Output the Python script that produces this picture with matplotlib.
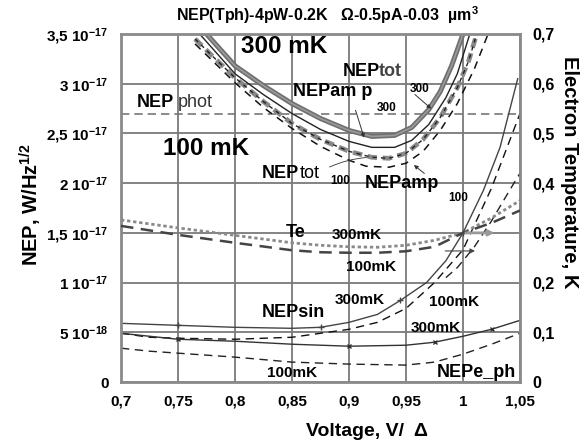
import matplotlib
matplotlib.use("Agg")
import matplotlib.pyplot as plt

plt.rcParams['font.family'] = ['Liberation Sans', 'DejaVu Sans']
plt.rcParams['font.weight'] = 'bold'
plt.rcParams['mathtext.fontset'] = 'custom'
plt.rcParams['mathtext.rm'] = 'Liberation Sans:bold'
plt.rcParams['mathtext.it'] = 'Liberation Sans:bold'
plt.rcParams['mathtext.bf'] = 'Liberation Sans:bold'

# ---------------- data (NEP in 1e-18 W/Hz^1/2, Te in K) ----------------
v_tot300 = [0.775, 0.80, 0.825, 0.85, 0.875, 0.90, 0.92, 0.94, 0.955, 0.97, 0.98, 0.99, 1.0]
nep_tot300 = [35.0, 31.8, 29.8, 28.0, 26.5, 25.3, 24.7, 24.8, 25.6, 27.4, 29.2, 31.8, 35.0]

v_amp300 = [0.769, 0.80, 0.825, 0.85, 0.875, 0.90, 0.92, 0.94, 0.955, 0.97, 0.985, 0.995, 1.006]
nep_amp300 = [35.0, 31.0, 28.9, 27.0, 25.4, 24.2, 23.6, 23.6, 24.3, 25.9, 28.6, 31.0, 35.0]

v_tot100 = [0.765, 0.78, 0.80, 0.825, 0.85, 0.875, 0.90, 0.92, 0.935, 0.95, 0.965, 0.98, 0.995, 1.005, 1.012]
nep_tot100 = [34.5, 32.8, 30.6, 28.2, 26.0, 24.4, 23.2, 22.6, 22.5, 23.0, 24.4, 26.6, 29.6, 32.3, 35.0]

v_amp100 = [0.765, 0.80, 0.825, 0.85, 0.875, 0.90, 0.915, 0.935, 0.95, 0.965, 0.98, 0.995, 1.01, 1.022]
nep_amp100 = [34.0, 30.1, 27.6, 25.5, 23.7, 22.3, 21.7, 21.6, 22.0, 23.2, 25.3, 28.0, 31.5, 35.0]

v_phot = [0.70, 1.05]
nep_phot = [27.0, 27.0]

v_sin = [0.70, 0.75, 0.80, 0.85, 0.875, 0.90, 0.925, 0.945, 0.968, 0.985, 1.0, 1.018, 1.0325, 1.048]
nep_sin300 = [5.9, 5.7, 5.5, 5.4, 5.5, 6.0, 6.8, 8.2, 10.0, 12.2, 15.0, 19.3, 23.6, 30.5]

v_sin100 = [0.70, 0.725, 0.75, 0.80, 0.85, 0.875, 0.90, 0.925, 0.95, 0.975, 1.0, 1.025, 1.05]
nep_sin100 = [4.9, 4.5, 4.4, 4.3, 4.5, 4.9, 5.3, 6.0, 7.4, 10.0, 13.3, 19.5, 27.0]

v_sin100b = [0.985, 0.995, 1.01, 1.025, 1.041, 1.05]
nep_sin100b = [10.5, 11.5, 13.6, 16.2, 19.3, 21.0]

v_eph = [0.70, 0.725, 0.75, 0.80, 0.85, 0.90, 0.95, 0.975, 1.0, 1.025, 1.05]
nep_eph300 = [4.9, 4.6, 4.3, 4.1, 3.8, 3.6, 3.7, 4.0, 4.6, 5.3, 6.2]
nep_eph100 = [3.4, 3.1, 2.9, 2.5, 2.0, 1.8, 1.7, 2.0, 2.8, 3.8, 4.9]

v_te = [0.70, 0.75, 0.80, 0.85, 0.875, 0.90, 0.925, 0.95, 0.975, 1.0, 1.025, 1.05]
te300 = [0.326, 0.310, 0.295, 0.280, 0.275, 0.272, 0.271, 0.275, 0.285, 0.300, 0.330, 0.365]
te100 = [0.314, 0.296, 0.280, 0.265, 0.261, 0.260, 0.260, 0.263, 0.272, 0.300, 0.320, 0.345]

x_ticks = [0.70, 0.75, 0.80, 0.85, 0.90, 0.95, 1.00, 1.05]
x_labels = ['0,7', '0,75', '0,8', '0,85', '0,9', '0,95', '1', '1,05']
y_ticks = [0, 5, 10, 15, 20, 25, 30, 35]
y_labels = ['0', '5 10$^{-18}$', '1 10$^{-17}$', '1,5 10$^{-17}$', '2 10$^{-17}$',
            '2,5 10$^{-17}$', '3 10$^{-17}$', '3,5 10$^{-17}$']
t_ticks = [0, 0.1, 0.2, 0.3, 0.4, 0.5, 0.6, 0.7]
t_labels = ['0', '0,1', '0,2', '0,3', '0,4', '0,5', '0,6', '0,7']

# ---------------- figure ----------------
fig = plt.figure(figsize=(5.85, 4.46), dpi=100)
ax = fig.add_axes([121/585, 1-382/446, (520-121)/585, (382-34)/446])
ax.set_xlim(0.70, 1.05)
ax.set_ylim(0, 35)

ax.set_xticks(x_ticks)
ax.set_xticklabels(x_labels)
ax.set_yticks(y_ticks)
ax.set_yticklabels(y_labels)
ax.tick_params(length=0, labelsize=11, pad=9)
for lab in ax.get_xticklabels() + ax.get_yticklabels():
    lab.set_fontweight('bold')
ax.grid(True, color='#7a7a7a', lw=1.3)
ax.set_axisbelow(True)
for s in ax.spines.values():
    s.set_color('#8a8a8a')
    s.set_linewidth(2)

ax2 = ax.twinx()
ax2.set_ylim(0, 0.7)
ax2.set_yticks(t_ticks)
ax2.set_yticklabels(t_labels)
ax2.tick_params(length=0, labelsize=11.5, pad=9)
for lab in ax2.get_yticklabels():
    lab.set_fontweight('bold')
for s in ax2.spines.values():
    s.set_visible(False)

# NEP curves (upper group)
ax.plot(v_phot, nep_phot, color='#777777', lw=1.2, ls=(0, (5, 3)))
ax.plot(v_tot300, nep_tot300, color='#6f6f6f', lw=3.6, solid_capstyle='butt')
ax.plot(v_tot300, nep_tot300, color='#9a9a9a', lw=1.2)
ax.plot(v_amp300, nep_amp300, color='#222222', lw=1.0)
ax.plot(v_tot100, nep_tot100, color='#888888', lw=3.4, ls=(0, (2.0, 1.2)))
ax.plot(v_tot100, nep_tot100, color='#222222', lw=1.0, ls=(0, (3, 3)))
ax.plot(v_amp100, nep_amp100, color='#111111', lw=1.1, ls=(0, (5, 4)))

# lower group
ax.plot(v_sin, nep_sin300, color='#444444', lw=1.0, marker='+', ms=4, markevery=[1, 4, 7, 10])
ax.plot(v_sin100, nep_sin100, color='#111111', lw=1.0, ls=(0, (6, 4)))
ax.plot(v_sin100b, nep_sin100b, color='#222222', lw=1.0, ls=(0, (6, 4)))
ax.plot(v_eph, nep_eph300, color='#333333', lw=1.0, marker='x', ms=3, markevery=[2, 5, 7, 9])
ax.plot(v_eph, nep_eph100, color='#222222', lw=1.0, ls=(0, (6, 4)))

# electron temperature (right axis)
ax2.plot(v_te, te300, color='#8a8a8a', lw=2.0, ls=(0, (1.2, 1.0)))
ax2.plot(v_te, te100, color='#444444', lw=1.8, ls=(0, (5, 3)))

# arrows on Te
ax2.annotate('', xy=(1.03, 0.30), xytext=(1.0, 0.30),
             arrowprops=dict(arrowstyle='-|>', color='#999999', lw=2, mutation_scale=8))
ax2.annotate('', xy=(1.013, 0.2636), xytext=(0.982, 0.2636),
             arrowprops=dict(arrowstyle='-|>', color='#444444', lw=0.8, mutation_scale=7))

# text annotations
def t(x, y, s, size, ha='center', weight='bold', color='black', **kw):
    ax.text(x, y, s, fontsize=size, ha=ha, va='center', fontweight=weight, color=color, **kw)

t(0.843, 33.7, '300 mK', 17.5)
t(0.7746, 23.5, '100 mK', 17.5)
t(0.714, 28.1, 'NEP', 13, ha='left')
t(0.7495, 28.1, 'phot', 13, ha='left', weight='normal', color='#333333')
t(0.8947, 31.2, 'NEP', 13, ha='left')
t(0.9265, 31.2, 'tot', 13, ha='left', color='#444444')
t(0.962, 29.5, '300', 8.5)
t(0.851, 29.2, 'NEPam p', 13, ha='left')
t(0.933, 27.6, '300', 8.5)
t(0.8237, 21.0, 'NEP', 13, ha='left')
t(0.857, 21.0, 'tot', 13, ha='left', weight='normal')
t(0.892, 20.2, '100', 8.5)
t(0.914, 20.0, 'NEPamp', 13, ha='left')
t(0.9956, 18.5, '100', 8.5)
t(0.8535, 15.0, 'Te', 13)
t(0.907, 14.8, '300mK', 11)
t(0.919, 11.6, '100mK', 11)
t(0.8237, 7.0, 'NEPsin', 13, ha='left')
t(0.9096, 8.2, '300mK', 11)
t(0.992, 8.0, '100mK', 11)
t(0.976, 5.4, '300mK', 11)
t(0.85, 0.9, '100mK', 11)
t(1.012, 1.0, 'NEPe_ph', 13)

arr = dict(arrowstyle='-|>', color='#333333', lw=0.7, mutation_scale=6)
ax.annotate('', xy=(0.974, 27.3), xytext=(0.956, 29.1), arrowprops=arr)
ax.annotate('', xy=(0.914, 24.3), xytext=(0.905, 27.6), arrowprops=arr)
ax.annotate('', xy=(0.955, 22.0), xytext=(0.968, 20.8), arrowprops=arr)
ax.annotate('', xy=(0.918, 22.6), xytext=(0.8807, 21.5),
            arrowprops=dict(arrowstyle='-', color='#333333', lw=0.6,
                            connectionstyle='arc3,rad=-0.1'))

fig.text(327/585, 1-15/446, 'NEP(Tph)-4pW-0.2K   \u03a9-0.5pA-0.03  \u00b5m$^{3}$',
         ha='center', va='center', fontsize=11.5, fontweight='bold')
fig.text(31/585, 1-205/446, 'NEP, W/Hz$^{1/2}$', rotation=90, ha='center', va='center',
         fontsize=14.5, fontweight='bold')
fig.text(569/585, 1-172/446, 'Electron Temperature, K', rotation=-90, ha='center', va='center',
         fontsize=14.5, fontweight='bold')
fig.text(367/585, 1-432/446, 'Voltage, V/  \u0394', ha='center', va='center',
         fontsize=14, fontweight='bold')

fig.savefig('out.png', dpi=100, facecolor='white')
